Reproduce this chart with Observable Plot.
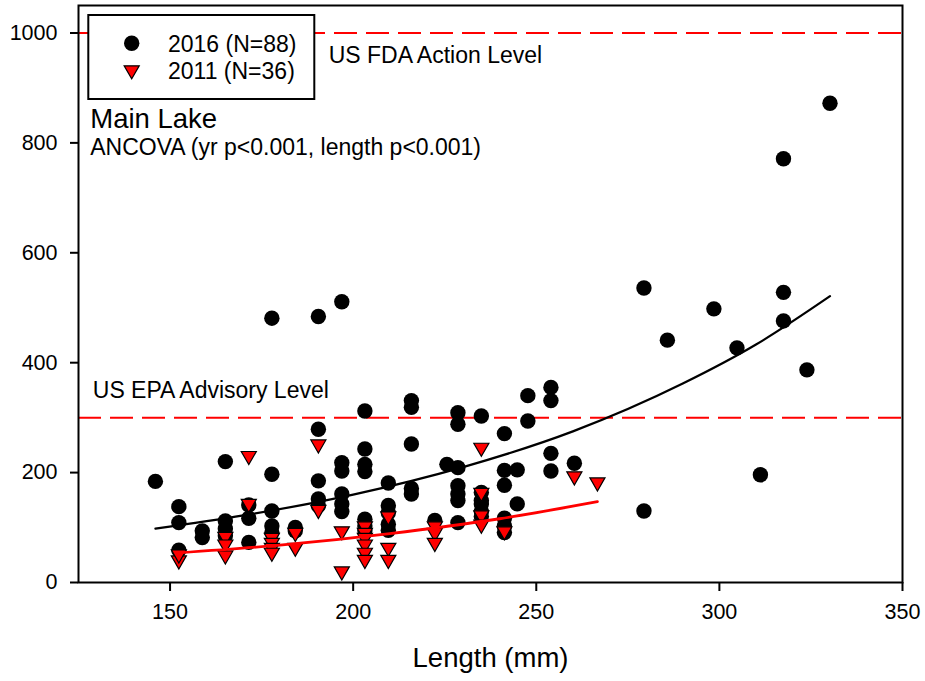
<!DOCTYPE html>
<html>
<head>
<meta charset="utf-8">
<script src="https://cdn.jsdelivr.net/npm/d3@7"></script>
<script src="https://cdn.jsdelivr.net/npm/@observablehq/plot@0.6"></script>
<style>
  html, body { margin: 0; padding: 0; background: #fff; }
  #chart { position: relative; width: 925px; height: 681px; }
  #chart svg { display: block; }
</style>
</head>
<body>
<div id="chart"></div>
<script>
// Fish length (mm) and mercury concentration, Main Lake, 2016 survey
const len2016 = [
  146,
  152.4, 152.4, 152.4,
  158.8, 158.8,
  165.1, 165.1, 165.1, 165.1,
  171.5, 171.5, 171.5,
  177.8, 177.8, 177.8, 177.8, 177.8,
  184.2, 184.2,
  190.5, 190.5, 190.5, 190.5, 190.5,
  196.9, 196.9, 196.9, 196.9, 196.9, 196.9,
  203.2, 203.2, 203.2, 203.2, 203.2, 203.2, 203.2,
  209.6, 209.6, 209.6, 209.6, 209.6,
  215.9, 215.9, 215.9, 215.9, 215.9,
  222.3,
  225.6,
  228.6, 228.6, 228.6, 228.6, 228.6, 228.6, 228.6,
  235.0, 235.0, 235.0, 235.0, 235.0, 235.0,
  241.3, 241.3, 241.3, 241.3, 241.3, 241.3,
  244.8, 244.8,
  247.7, 247.7,
  254.0, 254.0, 254.0, 254.0,
  260.4,
  279.4, 279.4,
  285.8,
  298.5,
  304.8,
  311.2,
  317.5, 317.5, 317.5,
  323.9,
  330.2
];
const hg2016 = [
  184,
  138, 109, 59,
  94, 82,
  220, 112, 98, 85,
  141, 117, 73,
  481, 197, 130, 103, 91,
  94, 100,
  484, 279, 185, 152, 140,
  511, 218, 203, 161, 143, 129,
  312, 243, 215, 202, 115, 103, 94,
  181, 140, 127, 106, 95,
  331, 319, 252, 171, 161,
  113,
  215,
  309, 288, 209, 176, 161, 149, 109,
  303, 164, 149, 143, 129, 120,
  271, 204, 177, 117, 103, 91,
  205, 143,
  340, 294,
  355, 331, 235, 203,
  217,
  536, 130,
  441,
  498,
  427,
  196,
  771, 528, 476,
  387,
  872
];

// Same lake, 2011 survey
const len2011 = [
  152.4, 152.4,
  165.1, 165.1, 165.1,
  171.5, 171.5,
  177.8, 177.8, 177.8, 177.8,
  184.2, 184.2,
  190.5, 190.5,
  196.9, 196.9,
  203.2, 203.2, 203.2, 203.2, 203.2, 203.2,
  209.6, 209.6, 209.6,
  222.3, 222.3, 222.3,
  235.0, 235.0, 235.0, 235.0,
  241.3,
  260.4,
  266.7
];
const hg2011 = [
  38, 49,
  81, 67, 47,
  228, 141,
  79, 70, 61, 52,
  88, 61,
  249, 130,
  91, 18,
  100, 88, 79, 67, 52, 39,
  118, 61, 39,
  100, 88, 70,
  243, 161, 120, 103,
  91,
  191,
  180
];

// Exponential length fits for each year
const fit2016Len = [146, 170, 200, 230, 260, 290, 310, 330.2];
const fit2016Hg  = [98, 122, 160, 210, 275, 362, 433, 521];
const fit2011Len = [152.4, 180, 210, 240, 266.7];
const fit2011Hg  = [54, 68, 89, 116, 147];

// Consumption guideline levels
const refLevels = [300, 1000];

// Axis ticks
const xTicks = [150, 200, 250, 300, 350];
const yTicks = [0, 200, 400, 600, 800, 1000];

// Text annotations placed in data space
const noteText = ["US FDA Action Level", "US EPA Advisory Level", "Main Lake", "ANCOVA (yr p<0.001, length p<0.001)"];
const noteX = [193.3, 128.9, 128.2, 128.2];
const noteY = [958, 350, 843, 792];
const noteSize = [23, 23, 27.5, 23];

const legendLabels = ["2016 (N=88)", "2011 (N=36)"];
const xLabel = "Length (mm)";

const pts2016 = len2016.map((x, i) => ({x, y: hg2016[i]}));
const pts2011 = len2011.map((x, i) => ({x, y: hg2011[i]}));
const curve2016 = fit2016Len.map((x, i) => ({x, y: fit2016Hg[i]}));
const curve2011 = fit2011Len.map((x, i) => ({x, y: fit2011Hg[i]}));
const notes = noteText.map((t, i) => ({t, x: noteX[i], y: noteY[i], s: noteSize[i]}));

// Downward-pointing triangle symbol
const triangleDown = {
  draw(ctx, size) {
    const r = Math.sqrt(size / Math.PI);
    ctx.moveTo(-0.98 * r, -0.74 * r);
    ctx.lineTo(0.98 * r, -0.74 * r);
    ctx.lineTo(0, 0.96 * r);
    ctx.closePath();
  }
};

const FONT = "'Liberation Sans', Arial, sans-serif";

const plot = Plot.plot({
  width: 925,
  height: 681,
  marginLeft: 78,
  marginRight: 23,
  marginTop: 5,
  marginBottom: 99,
  style: {fontFamily: FONT, fontSize: "21px", color: "#000", background: "#fff"},
  x: {domain: [125, 350]},
  y: {domain: [0, 1050]},
  marks: [
    Plot.ruleY(refLevels, {stroke: "#ff0000", strokeWidth: 2, strokeDasharray: "23,9"}),
    Plot.dot(pts2016, {x: "x", y: "y", r: 7.7, fill: "#000", stroke: "none"}),
    Plot.dot(pts2011, {x: "x", y: "y", r: 7.7, symbol: triangleDown, fill: "#ff0000", stroke: "#000", strokeWidth: 1.2}),
    Plot.line(curve2016, {x: "x", y: "y", stroke: "#000", strokeWidth: 2.2, curve: "monotone-x"}),
    Plot.line(curve2011, {x: "x", y: "y", stroke: "#ff0000", strokeWidth: 2.8, curve: "monotone-x"}),
    Plot.text(notes.filter(d => d.s === 23), {x: "x", y: "y", text: "t", textAnchor: "start", fontSize: 23, fill: "#000"}),
    Plot.text(notes.filter(d => d.s === 27.5), {x: "x", y: "y", text: "t", textAnchor: "start", fontSize: 27.5, fill: "#000"}),
    Plot.axisX({ticks: xTicks, tickSize: 9, tickPadding: 12, strokeWidth: 2, fontSize: 21.5, tickFormat: d => String(d), label: null}),
    Plot.axisY({ticks: yTicks, tickSize: 8, tickPadding: 13, strokeWidth: 2, fontSize: 21.5, tickFormat: d => String(d), label: null}),
    Plot.text([xLabel], {frameAnchor: "bottom", dy: 84, fontSize: 27.5, fill: "#000"}),
    Plot.frame({stroke: "#000", strokeWidth: 2})
  ]
});

document.getElementById("chart").appendChild(plot);

// Legend box in the upper-left corner of the frame
const svg = d3.select(plot);
const lg = svg.append("g").attr("font-family", FONT).attr("font-size", 23).attr("text-anchor", "start");
lg.append("rect")
  .attr("x", 88.3).attr("y", 15).attr("width", 226).attr("height", 84)
  .attr("fill", "#fff").attr("stroke", "#000").attr("stroke-width", 2);
lg.append("circle").attr("cx", 131.7).attr("cy", 43.3).attr("r", 7.7).attr("fill", "#000");
lg.append("path")
  .attr("transform", "translate(131.7,71.5)")
  .attr("d", d3.symbol(triangleDown, Math.PI * 7.7 * 7.7)())
  .attr("fill", "#ff0000").attr("stroke", "#000").attr("stroke-width", 1.2);
legendLabels.forEach((t, i) => {
  lg.append("text").attr("x", 168).attr("y", [51.7, 79.3][i]).attr("text-anchor", "start").attr("fill", "#000").text(t);
});
</script>
</body>
</html>
